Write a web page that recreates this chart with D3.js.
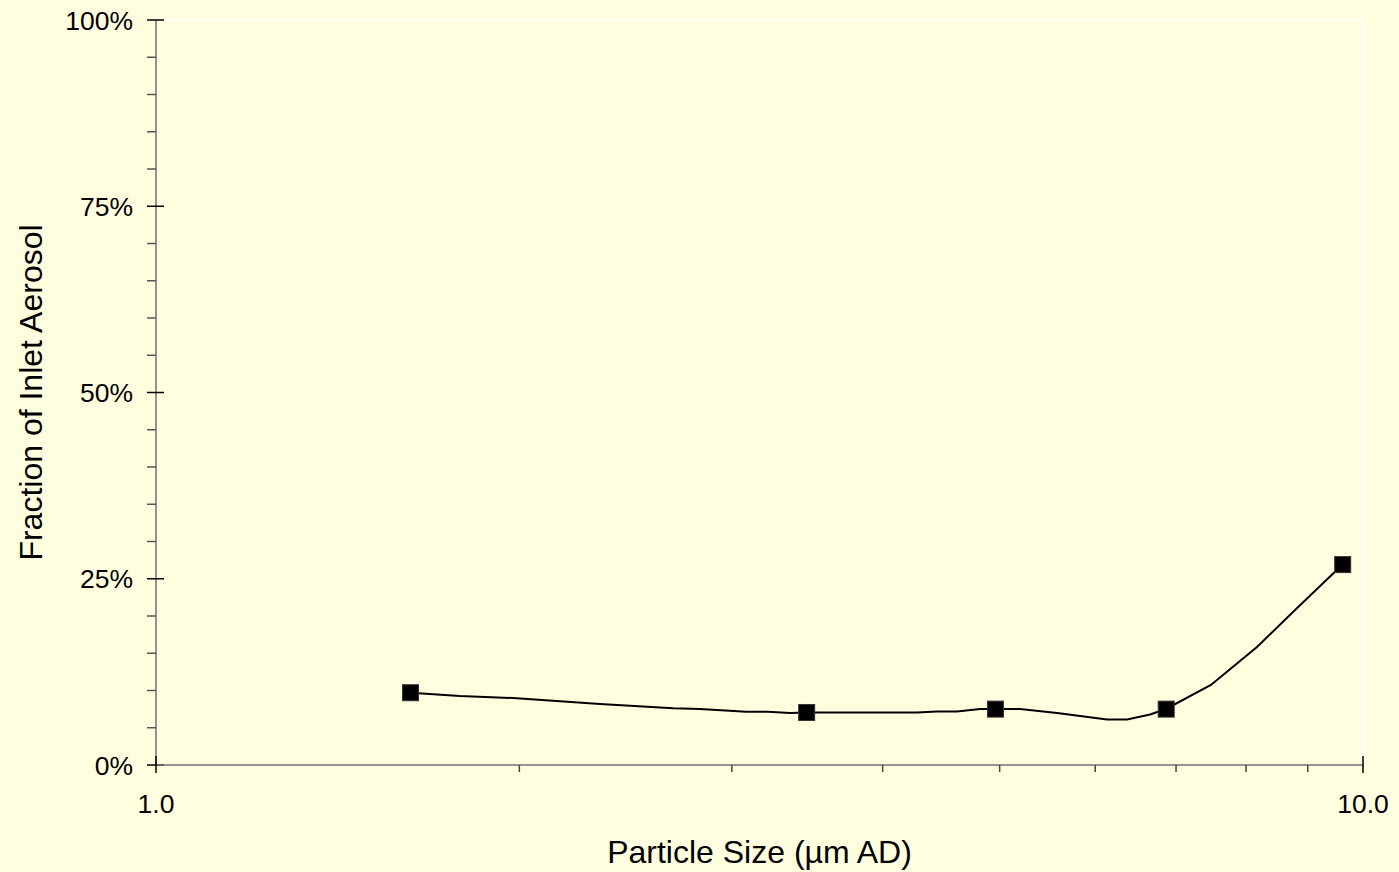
<!DOCTYPE html>
<html>
<head>
<meta charset="utf-8">
<script src="https://cdn.jsdelivr.net/npm/d3@7"></script>
<style>
  html, body { margin: 0; padding: 0; background: #FFFFE0; }
  svg { display: block; }
  text { font-family: Arial, "Liberation Sans", sans-serif; fill: #000; }
</style>
</head>
<body>
<svg id="chart" width="1399" height="872"></svg>
<script>
// Measured particle sizes (µm AD) and fractions (%)
const sizes = [1.625, 3.46, 4.96, 6.87, 9.62];
const fractions = [9.7, 7.05, 7.5, 7.5, 26.9];

// Smoothed curve vertices through the measurements
const curveSizes = [1.625, 1.786, 1.976, 2.333, 2.682, 2.823, 3.083, 3.214, 3.352, 3.462,
                    4.272, 4.437, 4.610, 4.817, 4.956, 5.198, 5.579, 6.137, 6.376, 6.662,
                    6.868, 7.482, 8.169, 8.750, 9.617];
const curveFractions = [9.7, 9.26, 8.99, 8.19, 7.61, 7.52, 7.15, 7.15, 6.98, 7.05,
                        7.05, 7.18, 7.18, 7.52, 7.52, 7.52, 6.98, 6.11, 6.11, 6.78,
                        7.52, 10.74, 15.84, 20.54, 26.9];

// Axis ticks
const yMajorTicks = [0, 25, 50, 75, 100];
const yMinorTicks = d3.range(0, 101, 5).filter(v => v % 25 !== 0);
const xMajorTicks = [1, 10];
const xMinorTicks = [2, 3, 4, 5, 6, 7, 8, 9];
const xTickLabels = ["1.0", "10.0"];
const yTickLabels = ["0%", "25%", "50%", "75%", "100%"];

const svg = d3.select("#chart");
const plotLeft = 156, plotRight = 1363, plotTop = 20, plotBottom = 765;

const x = d3.scaleLog().domain([1, 10]).range([plotLeft, plotRight]);
const y = d3.scaleLinear().domain([0, 100]).range([plotBottom, plotTop]);

// Background and the light plot-area border (top and right)
svg.append("rect").attr("x", 0).attr("y", 0).attr("width", 1399).attr("height", 872).attr("fill", "#FFFFE0");
svg.append("path")
  .attr("d", `M${plotLeft},${plotTop}H${plotRight}V${plotBottom}`)
  .attr("fill", "none").attr("stroke", "#ffffff").attr("stroke-width", 2);

// Y axis
const gy = svg.append("g");
gy.append("line").attr("x1", plotLeft).attr("x2", plotLeft).attr("y1", plotTop).attr("y2", plotBottom)
  .attr("stroke", "#707070").attr("stroke-width", 1.5);
gy.selectAll(".ymin").data(yMinorTicks).join("line")
  .attr("x1", plotLeft - 9).attr("x2", plotLeft).attr("y1", d => y(d)).attr("y2", d => y(d))
  .attr("stroke", "#555").attr("stroke-width", 1.5);
gy.selectAll(".ymaj").data(yMajorTicks).join("line")
  .attr("x1", plotLeft - 9).attr("x2", plotLeft + 8).attr("y1", d => y(d)).attr("y2", d => y(d))
  .attr("stroke", "#000").attr("stroke-width", 1.5);
gy.selectAll(".ylab").data(yMajorTicks).join("text")
  .attr("x", plotLeft - 23).attr("y", d => y(d)).attr("dy", "0.36em")
  .attr("text-anchor", "end").attr("font-size", 26.5)
  .text((d, i) => yTickLabels[i]);

// X axis
const gx = svg.append("g");
gx.append("line").attr("x1", plotLeft).attr("x2", plotRight).attr("y1", plotBottom).attr("y2", plotBottom)
  .attr("stroke", "#707070").attr("stroke-width", 1.5);
gx.selectAll(".xmin").data(xMinorTicks).join("line")
  .attr("x1", d => x(d)).attr("x2", d => x(d)).attr("y1", plotBottom).attr("y2", plotBottom + 7)
  .attr("stroke", "#444").attr("stroke-width", 1.5);
gx.selectAll(".xmaj").data(xMajorTicks).join("line")
  .attr("x1", d => x(d)).attr("x2", d => x(d)).attr("y1", plotBottom - 9).attr("y2", plotBottom + 8)
  .attr("stroke", "#000").attr("stroke-width", 1.5);
gx.selectAll(".xlab").data(xMajorTicks).join("text")
  .attr("x", d => x(d)).attr("y", 813)
  .attr("text-anchor", "middle").attr("font-size", 26.5)
  .text((d, i) => xTickLabels[i]);

// Axis titles
svg.append("text")
  .attr("x", (plotLeft + plotRight) / 2).attr("y", 863)
  .attr("text-anchor", "middle").attr("font-size", 32)
  .text("Particle Size (µm AD)");
svg.append("text")
  .attr("transform", `translate(42,${(plotTop + plotBottom) / 2}) rotate(-90)`)
  .attr("text-anchor", "middle").attr("font-size", 32)
  .text("Fraction of Inlet Aerosol");

// Curve
const line = d3.line().x(d => x(d[0])).y(d => y(d[1]));
svg.append("path")
  .datum(curveSizes.map((s, i) => [s, curveFractions[i]]))
  .attr("d", line)
  .attr("fill", "none").attr("stroke", "#000").attr("stroke-width", 2);

// Markers
const ms = 16;
svg.selectAll(".pt").data(sizes.map((s, i) => [s, fractions[i]])).join("rect")
  .attr("x", d => x(d[0]) - ms / 2).attr("y", d => y(d[1]) - ms / 2)
  .attr("width", ms).attr("height", ms)
  .attr("fill", "#000").attr("stroke", "#333").attr("stroke-width", 1);
</script>
</body>
</html>
